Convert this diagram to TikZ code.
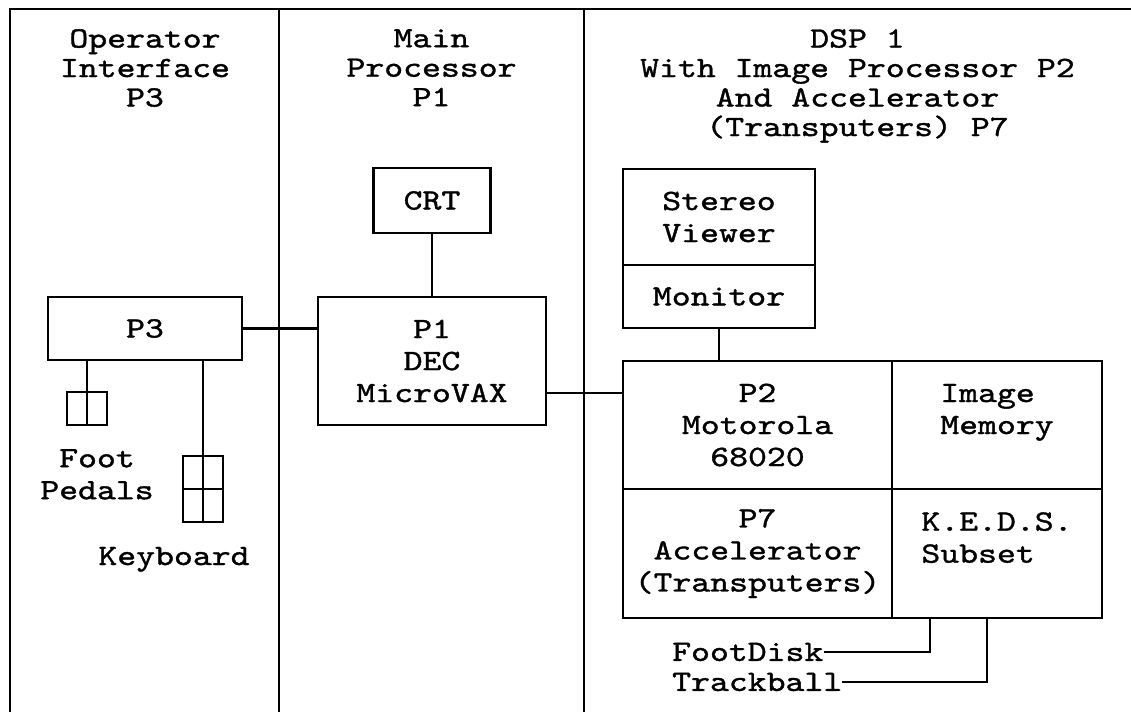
\documentclass[tikz,border=0pt]{standalone}
\usepackage{fontspec}
\newfontfamily\courierfont{lmmono10-regular}[Extension=.otf,FakeStretch=1.22,FakeBold=1.2]
\usetikzlibrary{calc}

\begin{document}
\begin{tikzpicture}[x=1bp,y=-1bp,line join=miter]
  \path[use as bounding box] (0,0) rectangle (1131,712);
  \fill[white] (0,0) rectangle (1131,712);

  \tikzset{
    frame/.style={line width=2.6bp},
    link/.style={line width=2.4bp},
    unit/.style={draw,line width=2.4bp,inner sep=0pt,align=center,
      font=\courierfont\fontsize{29.5bp}{32bp}\selectfont},
    heading/.style={inner sep=0pt,align=center,anchor=north,
      font=\courierfont\fontsize{29.5bp}{29.5bp}\selectfont},
    caption/.style={inner sep=0pt,
      font=\courierfont\fontsize{29.5bp}{32bp}\selectfont},
  }

  % columns
  \draw[frame] (10,712) -- (10,9) -- (1131,9);
  \draw[frame] (279,9) -- (279,712);
  \draw[frame] (584,9) -- (584,712);

  \node[heading] (opHead) at (145,29) {Operator\\Interface\\P3};
  \node[heading] (mainHead) at (431.5,29) {Main\\Processor\\P1};
  \node[heading] (dspHead) at (857.5,29)
    {DSP 1\\With Image Processor P2\\And Accelerator\\(Transputers) P7};

  % operator interface
  \node[unit,minimum width=194bp,minimum height=63bp] (p3) at (145,328.5) {P3};
  \node[unit,minimum width=40bp,minimum height=33bp] (pedals) at (87,408.5) {};
  \node[unit,minimum width=40bp,minimum height=66bp] (keyboard) at (203,489) {};
  \draw[link] (pedals.north) -- (pedals.south);
  \draw[link] (keyboard.north) -- (keyboard.south);
  \draw[link] (keyboard.west) -- (keyboard.east);
  \draw[link] (p3.south -| pedals.north) -- (pedals.north);
  \draw[link] (p3.south -| keyboard.north) -- (keyboard.north);
  \node[caption,align=center,anchor=north] (pedalsText) at (97,449) {Foot\\Pedals};
  \node[caption,anchor=base] (keyboardText) at (174,565) {Keyboard};

  % main processor
  \node[unit,minimum width=117bp,minimum height=65bp] (crt) at (432,200.5) {CRT};
  \node[unit,minimum width=228bp,minimum height=128bp] (p1) at (432,361)
    {P1\\DEC\\MicroVAX};
  \draw[link] (crt.south) -- (p1.north);
  \draw[link] (p3.east) -- (p3.east -| p1.west);

  % dsp
  \node[unit,minimum width=192bp,minimum height=96bp] (stereo) at (719,217)
    {Stereo\\Viewer};
  \node[unit,minimum width=192bp,minimum height=63bp] (monitor) at (719,296.5)
    {Monitor};
  \node[unit,minimum width=269bp,minimum height=128bp] (p2) at (757.5,425)
    {P2\\Motorola\\68020};
  \node[unit,minimum width=210bp,minimum height=128bp,align=left] (imageMem)
    at (997,425) {Image\\Memory\\\mbox{}};
  \node[unit,minimum width=269bp,minimum height=129bp] (p7) at (757.5,553.5)
    {P7\\Accelerator\\(Transputers)};
  \node[unit,minimum width=210bp,minimum height=129bp,align=left] (keds)
    at (997,553.5) {K.E.D.S.\\Subset\\\mbox{}};
  \draw[link] (monitor.south) -- (monitor.south |- p2.north);
  \draw[link] ([yshift=32bp]p2.west) -- ([yshift=32bp]p2.west -| p1.east);

  \node[caption,anchor=west] (footDisk) at (672,652) {FootDisk};
  \node[caption,anchor=west] (trackball) at (672,682) {Trackball};
  \draw[link] (footDisk.east) -| ([xshift=39bp]keds.south west);
  \draw[link] (trackball.east) -| ([xshift=96bp]keds.south west);
\end{tikzpicture}
\end{document}
